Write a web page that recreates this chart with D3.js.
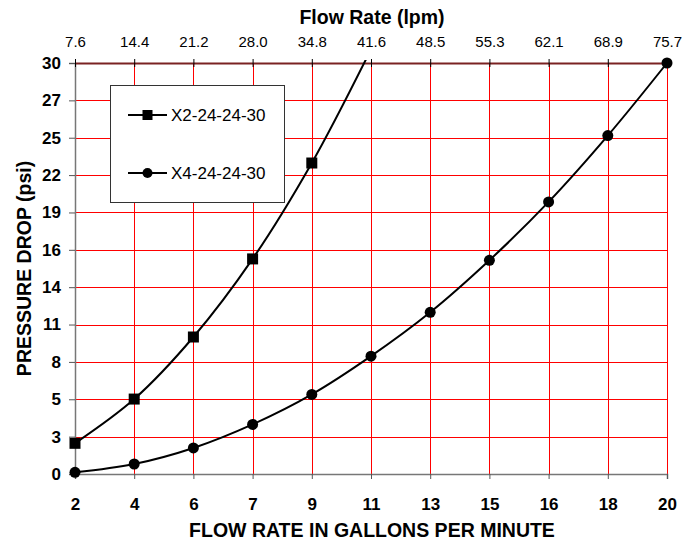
<!DOCTYPE html>
<html>
<head>
<meta charset="utf-8">
<script src="https://cdn.jsdelivr.net/npm/d3@7"></script>
<style>
  html, body { margin: 0; padding: 0; background: #fff; }
  text { font-family: "Liberation Sans", Arial, sans-serif; }
</style>
</head>
<body>
<svg id="chart" width="697" height="542"></svg>
<script>
// ---- data ----
const gpm = [2, 3.8, 5.6, 7.4, 9.2, 11, 12.8, 14.6, 16.4, 18.2, 20];
const xTickLabels = ["2", "4", "6", "7", "9", "11", "13", "15", "16", "18", "20"];
const topTickLabels = ["7.6", "14.4", "21.2", "28.0", "34.8", "41.6", "48.5", "55.3", "62.1", "68.9", "75.7"];
const yTickValues = [0, 2.727, 5.455, 8.182, 10.909, 13.636, 16.364, 19.091, 21.818, 24.545, 27.273, 30];
const yTickLabels = ["0", "3", "5", "8", "11", "14", "16", "19", "22", "25", "27", "30"];
const seriesNames = ["X2-24-24-30", "X4-24-24-30"];
const x2Values = [2.24, 5.47, 10.0, 15.7, 22.7, 31.0];
const x4Values = [0.12, 0.73, 1.9, 3.62, 5.81, 8.6, 11.8, 15.6, 19.86, 24.7, 30];

(function () {
// ---- layout ----
const svg = d3.select("#chart");
const pL = 75, pR = 667, pT = 63, pB = 474;
const x = d3.scaleLinear().domain([2, 20]).range([pL, pR]);
const y = d3.scaleLinear().domain([0, 30]).range([pB, pT]);
const FONT = "Liberation Sans, Arial, sans-serif";

// gridlines
const grid = svg.append("g");
grid.selectAll("line.h").data(yTickValues.slice(1)).join("line")
  .attr("x1", pL).attr("x2", pR)
  .attr("y1", d => Math.round(y(d)) + 0.5).attr("y2", d => Math.round(y(d)) + 0.5)
  .attr("stroke", "#ff0000").attr("stroke-width", 1);
grid.selectAll("line.v").data(gpm.slice(1)).join("line")
  .attr("x1", d => Math.round(x(d)) + 0.5).attr("x2", d => Math.round(x(d)) + 0.5)
  .attr("y1", pT).attr("y2", pB)
  .attr("stroke", "#ff0000").attr("stroke-width", 1);

// left axis
const yAxis = d3.axisLeft(y).tickValues(yTickValues).tickSize(6)
  .tickFormat((d, i) => yTickLabels[i]);
const gy = svg.append("g").attr("transform", `translate(${pL},0)`).call(yAxis);
gy.select(".domain").attr("stroke", "#777").attr("stroke-width", 1.5);
gy.selectAll(".tick line").attr("stroke", "#555");
gy.selectAll(".tick text").attr("font-size", 17).attr("font-weight", "bold")
  .attr("fill", "#000").attr("font-family", FONT).attr("x", -14);

// bottom axis
const xAxis = d3.axisBottom(x).tickValues(gpm).tickSize(5)
  .tickFormat((d, i) => xTickLabels[i]);
const gx = svg.append("g").attr("transform", `translate(0,${pB})`).call(xAxis);
gx.select(".domain").attr("stroke", "#777").attr("stroke-width", 1.5);
gx.selectAll(".tick line").attr("stroke", "#555");
gx.selectAll(".tick text").attr("font-size", 17).attr("font-weight", "bold")
  .attr("fill", "#000").attr("font-family", FONT).attr("y", 24);

// top axis
const xTop = d3.axisTop(x).tickValues(gpm).tickSizeInner(4).tickSizeOuter(0)
  .tickFormat((d, i) => topTickLabels[i]);
const gt = svg.append("g").attr("transform", `translate(0,${pT})`).call(xTop);
gt.select(".domain").attr("stroke", "#7a2222").attr("stroke-width", 2);
gt.selectAll(".tick line").attr("stroke", "#000").attr("y1", 4).attr("y2", -4);
gt.selectAll(".tick text").attr("font-size", 15).attr("fill", "#000")
  .attr("font-family", FONT).attr("y", -16.5);

// titles
svg.append("text").attr("x", (pL + pR) / 2 + 1).attr("y", 24)
  .attr("text-anchor", "middle").attr("font-size", 19.5).attr("font-weight", "bold")
  .text("Flow Rate (lpm)");
svg.append("text").attr("x", (pL + pR) / 2 + 1).attr("y", 537)
  .attr("text-anchor", "middle").attr("font-size", 19.5).attr("font-weight", "bold")
  .text("FLOW RATE IN GALLONS PER MINUTE");
svg.append("text").attr("transform", `translate(31,${(pT + pB) / 2}) rotate(-90)`)
  .attr("text-anchor", "middle").attr("font-size", 19.5).attr("font-weight", "bold")
  .text("PRESSURE DROP (psi)");

// clip
svg.append("defs").append("clipPath").attr("id", "plotclip")
  .append("rect").attr("x", pL - 10).attr("y", pT - 3)
  .attr("width", pR - pL + 20).attr("height", pB - pT + 13);

const line = d3.line().x(d => x(d[0])).y(d => y(d[1])).curve(d3.curveCatmullRom.alpha(0.5));
const s1 = x2Values.map((v, i) => [gpm[i], v]);
const s2 = x4Values.map((v, i) => [gpm[i], v]);

const plot = svg.append("g").attr("clip-path", "url(#plotclip)");
plot.append("path").datum(s1).attr("d", line)
  .attr("fill", "none").attr("stroke", "#000").attr("stroke-width", 2);
plot.append("path").datum(s2).attr("d", line)
  .attr("fill", "none").attr("stroke", "#000").attr("stroke-width", 2);

const markers = svg.append("g");
markers.selectAll("rect").data(s1.filter(d => d[1] <= 30)).join("rect")
  .attr("x", d => x(d[0]) - 5.5).attr("y", d => y(d[1]) - 5.5)
  .attr("width", 11).attr("height", 11).attr("fill", "#000");
markers.selectAll("circle").data(s2).join("circle")
  .attr("cx", d => x(d[0])).attr("cy", d => y(d[1])).attr("r", 5.5).attr("fill", "#000");

// legend
const lg = svg.append("g");
lg.append("rect").attr("x", 110.5).attr("y", 85.5).attr("width", 174).attr("height", 117)
  .attr("fill", "#fff").attr("stroke", "#333").attr("stroke-width", 1);
const ly = [115, 173];
seriesNames.forEach((name, i) => {
  lg.append("line").attr("x1", 128).attr("x2", 167).attr("y1", ly[i]).attr("y2", ly[i])
    .attr("stroke", "#000").attr("stroke-width", 2);
  if (i === 0) {
    lg.append("rect").attr("x", 142.5).attr("y", ly[i] - 5).attr("width", 10).attr("height", 10).attr("fill", "#000");
  } else {
    lg.append("circle").attr("cx", 147.5).attr("cy", ly[i]).attr("r", 5).attr("fill", "#000");
  }
  lg.append("text").attr("x", 171).attr("y", ly[i] + 6).attr("font-size", 17).text(name);
});
})();
</script>
</body>
</html>
